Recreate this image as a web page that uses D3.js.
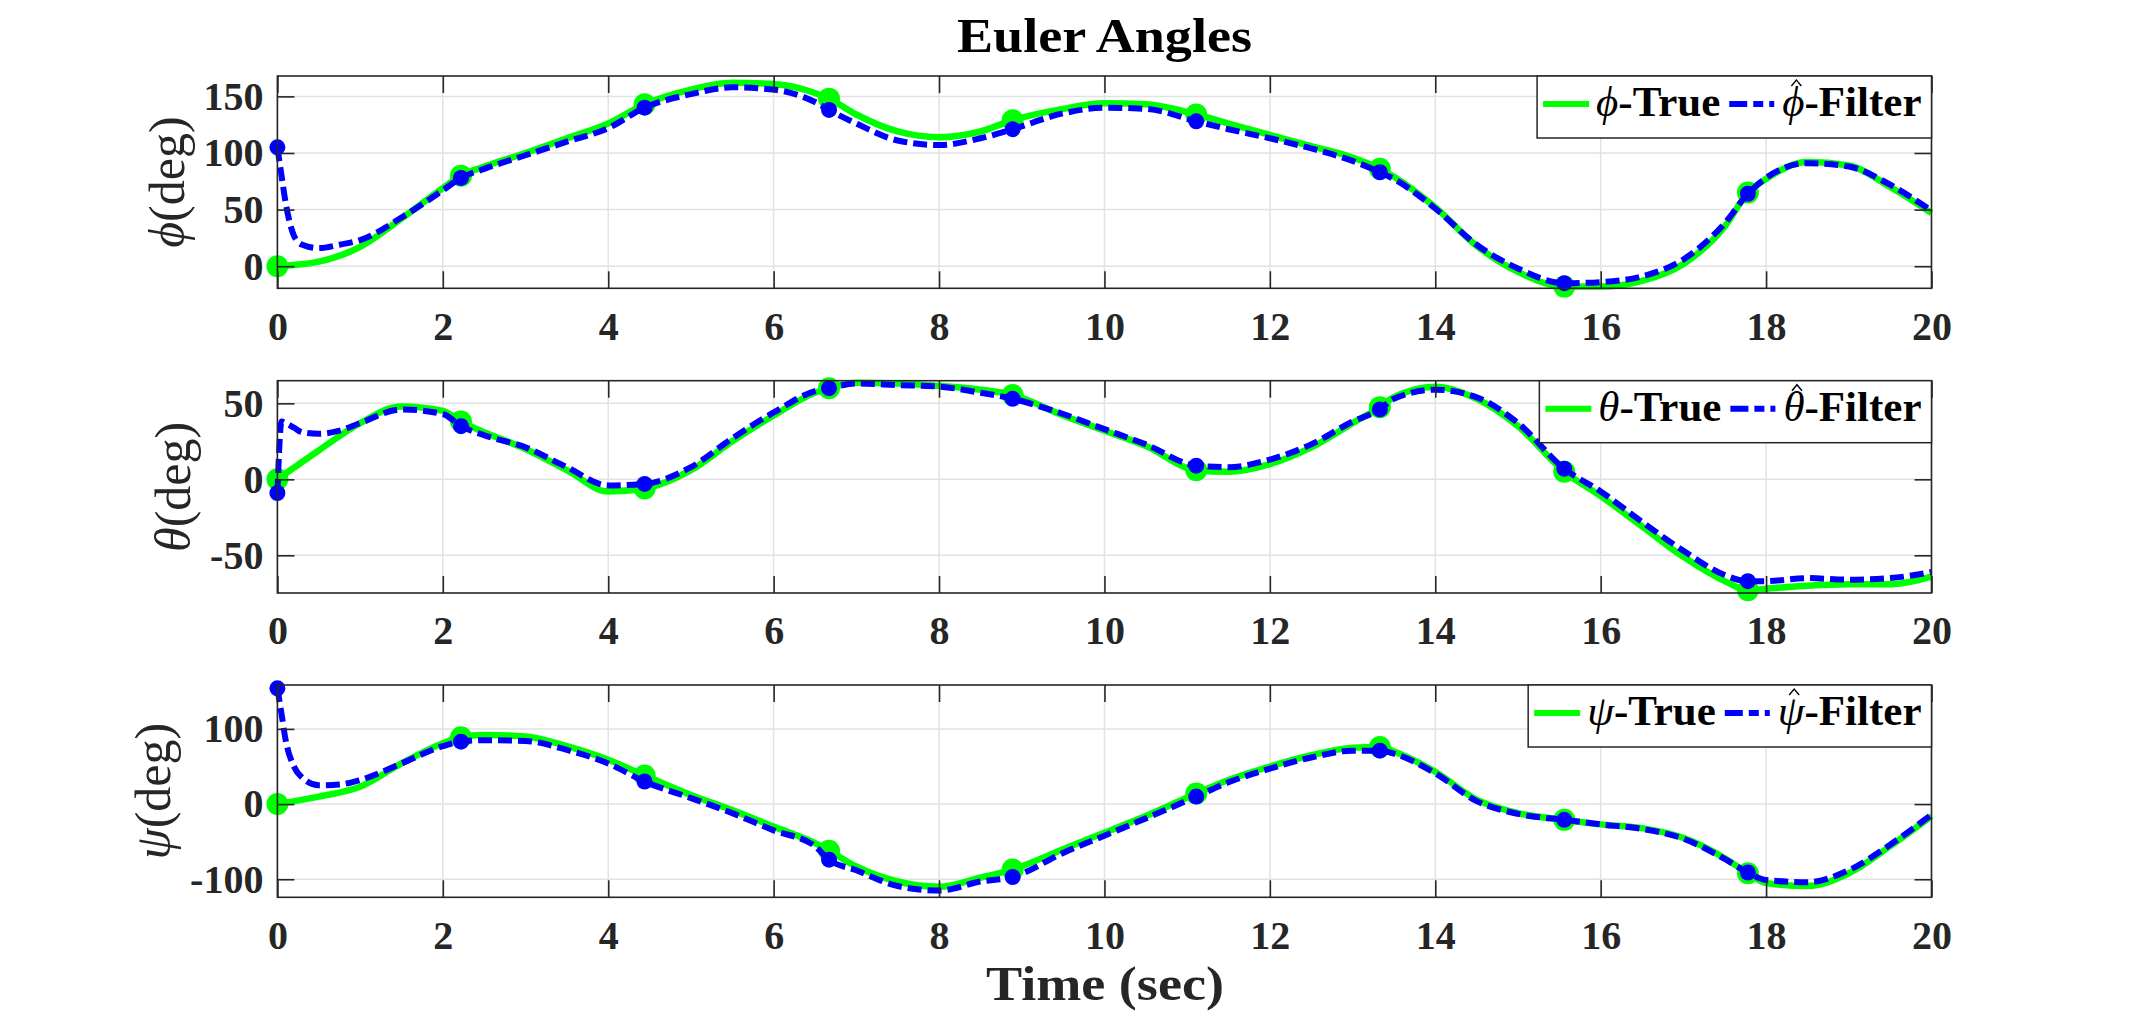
<!DOCTYPE html>
<html lang="en">

<head>
  <meta charset="UTF-8">
  <title>Euler Angles</title>
  <script src="https://d3js.org/d3.v7.min.js"></script>

  <style>
    body {
      margin: 0;
      background: #fff;
    }

    text {
      font-family: "Liberation Serif", "Times New Roman", serif;
    }
  </style>

</head>

<body>

  <div id="chart"></div>

  <script>

    // ---- data ----
    const time = [0, 0.5, 1, 1.5, 2, 2.22, 2.5, 3, 3.5, 4, 4.44, 5, 5.5, 6, 6.5, 6.67, 7, 7.5, 8, 8.5, 8.89, 9.5, 10, 10.5, 11.11, 11.5, 12, 12.5, 13, 13.33, 13.5, 14, 14.5, 15, 15.56, 16, 16.5, 17, 17.5, 17.78, 18, 18.5, 19, 19.5, 20];
    const phiTrue = [0, 4, 17, 42, 69, 80, 88, 100, 113, 126, 143, 156, 162, 161, 153, 148, 134, 119, 114, 119, 129, 139, 144, 143, 134, 126, 116, 106, 96, 86, 79, 52, 18, -5, -18, -18, -13, 2, 35, 65, 77, 92, 89, 70, 47];
    const thetaTrue = [0, 19, 37, 48, 45, 38, 31, 20, 6, -8, -6, 6, 25, 42, 57, 60, 63.5, 63, 61.5, 59, 55.5, 42, 32, 22, 6, 5, 10, 21, 37, 47.5, 54, 61, 53, 35, 5, -11, -31, -51, -67, -73, -72, -70, -69, -69, -64];
    const psiTrue = [0, 10, 23, 54, 81, 89, 92, 90, 77, 59, 38, 12, -8, -30, -52, -62, -83, -103, -110, -98, -87, -60, -38, -16, 14, 32, 50, 65, 75, 76, 70, 43, 6, -12, -21, -27, -32, -45, -72, -92, -105, -109, -92, -56, -16];

    const timeFilt = [0, 0.05, 0.1, 0.2, 0.3, 0.5, 0.75, 1, 1.5, 2, 2.22, 2.5, 3, 3.5, 4, 4.44, 5, 5.5, 6, 6.5, 6.67, 7, 7.5, 8, 8.5, 8.89, 9.5, 10, 10.5, 11.11, 11.5, 12, 12.5, 13, 13.33, 13.5, 14, 14.5, 15, 15.56, 16, 16.5, 17, 17.5, 17.78, 18, 18.5, 19, 19.5, 20];
    const phiFilt = [105, 80, 56, 27, 19, 16, 19, 23, 43, 67, 78, 86, 98, 110, 122, 140, 152, 158, 156, 145, 138, 126, 111, 107, 113, 121, 135, 140, 139, 128, 121, 113, 104, 93, 83, 77, 51, 19, -2, -15, -14, -9, 6, 38, 64, 78, 91, 88, 72, 49];
    const thetaFilt = [-9, 38, 37, 34, 31, 30, 32, 37, 46, 43, 35, 29, 21, 8, -4, -3, 8, 27, 44, 58, 60, 63, 62, 61, 57, 53, 43, 33, 23, 9, 8, 13, 23, 38, 46, 53, 59, 54, 37, 7, -8, -28, -47, -63, -67, -67, -65, -66, -65, -61];
    const psiFilt = [154, 120, 85, 50, 35, 25, 26, 32, 54, 77, 83, 85, 84, 72, 54, 30, 8, -12, -35, -56, -74, -88, -109, -115, -103, -97, -65, -42, -19, 10, 29, 47, 62, 71, 71, 67, 41, 4, -13, -21, -27, -33, -46, -73, -91, -101, -104, -88, -54, -14];

    const markerTimes = [0, 2.22, 4.44, 6.67, 8.89, 11.11, 13.33, 15.56, 17.78];

    const xTicks = [0, 2, 4, 6, 8, 10, 12, 14, 16, 18, 20];
    const phiTicks = [0, 50, 100, 150];
    const phiTickLabels = ['0', '50', '100', '150'];
    const thetaTicks = [-50, 0, 50];
    const thetaTickLabels = ['-50', '0', '50'];
    const psiTicks = [-100, 0, 100];
    const psiTickLabels = ['-100', '0', '100'];

    const symbols = ['\u03D5', '\u03B8', '\u03C8'];

    // ---- layout ----
    const W = 2136, H = 1017;
    const plotLeft = 277.4, plotRight = 1931.5, plotH = 212.3;
    const axisColor = '#262626';

    const panels = [
      { sym: symbols[0], trueV: phiTrue, filtV: phiFilt, domain: [-19.5, 168], ticks: phiTicks, labels: phiTickLabels, top: 76, labelX: 166 },
      { sym: symbols[1], trueV: thetaTrue, filtV: thetaFilt, domain: [-74.8, 64.9], ticks: thetaTicks, labels: thetaTickLabels, top: 380.7, labelX: 172 },
      { sym: symbols[2], trueV: psiTrue, filtV: psiFilt, domain: [-124, 158.4], ticks: psiTicks, labels: psiTickLabels, top: 685, labelX: 152 }
    ];

    const svg = d3.select('#chart').append('svg')
      .attr('width', W)
      .attr('height', H);

    svg.append('rect').attr('width', W).attr('height', H).attr('fill', '#fff');

    const x = d3.scaleLinear().domain([0, 20]).range([plotLeft, plotRight]);

    const drawLegend = (g, p) => {
      const top = p.top;
      const lg = g.append('g');
      const box = lg.append('rect')
        .attr('y', top)
        .attr('height', 62)
        .attr('fill', '#fff')
        .attr('stroke', axisColor)
        .attr('stroke-width', 1.5);

      let cx = 6;
      lg.append('line')
        .attr('x1', cx).attr('x2', cx + 46)
        .attr('y1', top + 28).attr('y2', top + 28)
        .attr('stroke', '#00ff00').attr('stroke-width', 6);
      cx += 53;

      const t1 = lg.append('text')
        .attr('x', cx).attr('y', top + 40)
        .attr('font-size', 43)
        .attr('fill', '#000');
      t1.append('tspan').attr('font-style', 'italic').text(p.sym);
      t1.append('tspan').attr('font-weight', 'bold').text('-True');
      cx += t1.node().getComputedTextLength() + 9;

      lg.append('line')
        .attr('x1', cx).attr('x2', cx + 45)
        .attr('y1', top + 28).attr('y2', top + 28)
        .attr('stroke', '#0000ff').attr('stroke-width', 6)
        .attr('stroke-dasharray', '18,6,10,6');
      cx += 53;

      const t2 = lg.append('text')
        .attr('x', cx).attr('y', top + 40)
        .attr('font-size', 43)
        .attr('fill', '#000');
      t2.append('tspan').attr('font-style', 'italic').text(p.sym);
      t2.append('tspan').attr('font-weight', 'bold').text('-Filter');
      const symW = t2.node().getSubStringLength(0, 1);
      const hx = cx + symW / 2 + 3;
      lg.append('path')
        .attr('d', `M${hx - 5},${top + 10} L${hx},${top + 4} L${hx + 5},${top + 10}`)
        .attr('fill', 'none')
        .attr('stroke', '#000')
        .attr('stroke-width', 1.4);
      cx += t2.node().getComputedTextLength() + 10;

      box.attr('x', 0).attr('width', cx);
      lg.attr('transform', `translate(${plotRight - cx},0)`);
    };

    panels.forEach(p => {
      const top = p.top, bottom = p.top + plotH;
      const y = d3.scaleLinear().domain(p.domain).range([bottom, top]);
      const g = svg.append('g');

      // grid
      g.append('g').selectAll('line').data(xTicks).enter().append('line')
        .attr('x1', d => x(d)).attr('x2', d => x(d))
        .attr('y1', top).attr('y2', bottom)
        .attr('stroke', '#e2e2e2').attr('stroke-width', 1.5);
      g.append('g').selectAll('line').data(p.ticks).enter().append('line')
        .attr('x1', plotLeft).attr('x2', plotRight)
        .attr('y1', d => y(d)).attr('y2', d => y(d))
        .attr('stroke', '#e2e2e2').attr('stroke-width', 1.5);

      const trueData = time.map((t, i) => ({ t: t, v: p.trueV[i] }));
      const filtData = timeFilt.map((t, i) => ({ t: t, v: p.filtV[i] }));

      const line = d3.line()
        .x(d => x(d.t))
        .y(d => y(d.v))
        .curve(d3.curveMonotoneX);

      g.append('path')
        .attr('d', line(trueData))
        .attr('fill', 'none')
        .attr('stroke', '#00ff00')
        .attr('stroke-width', 6.5)
        .attr('stroke-linejoin', 'round');

      g.append('g').selectAll('circle')
        .data(trueData.filter(d => markerTimes.includes(d.t)))
        .enter().append('circle')
        .attr('cx', d => x(d.t)).attr('cy', d => y(d.v))
        .attr('r', 11)
        .attr('fill', '#00ff00');

      g.append('path')
        .attr('d', line(filtData))
        .attr('fill', 'none')
        .attr('stroke', '#0000ff')
        .attr('stroke-width', 6)
        .attr('stroke-dasharray', '14,6');

      g.append('g').selectAll('circle')
        .data(filtData.filter(d => markerTimes.includes(d.t)))
        .enter().append('circle')
        .attr('cx', d => x(d.t)).attr('cy', d => y(d.v))
        .attr('r', 8)
        .attr('fill', '#0000ff');

      // axes
      const bottomAxis = g.append('g')
        .attr('transform', `translate(0,${bottom})`)
        .call(d3.axisBottom(x).tickValues(xTicks).tickSize(-17).tickPadding(23).tickFormat(d3.format('d')));
      const topAxis = g.append('g')
        .attr('transform', `translate(0,${top})`)
        .call(d3.axisTop(x).tickValues(xTicks).tickSize(-17).tickFormat(''));
      const leftAxis = g.append('g')
        .attr('transform', `translate(${plotLeft},0)`)
        .call(d3.axisLeft(y).tickValues(p.ticks).tickSize(-17).tickPadding(14).tickFormat((d, i) => p.labels[i]));
      const rightAxis = g.append('g')
        .attr('transform', `translate(${plotRight},0)`)
        .call(d3.axisRight(y).tickValues(p.ticks).tickSize(-17).tickFormat(''));

      [bottomAxis, topAxis, leftAxis, rightAxis].forEach(a => {
        a.attr('color', axisColor)
          .attr('font-size', 40)
          .attr('font-family', '"Liberation Serif", "Times New Roman", serif')
          .attr('font-weight', 'bold');
        a.select('.domain').remove();
        a.selectAll('.tick line').attr('stroke-width', 1.6);
      });

      g.append('rect')
        .attr('x', plotLeft).attr('y', top)
        .attr('width', plotRight - plotLeft).attr('height', plotH)
        .attr('fill', 'none')
        .attr('stroke', axisColor)
        .attr('stroke-width', 1.6);

      // y label
      const yl = g.append('text')
        .attr('transform', `translate(${p.labelX},${(top + bottom) / 2}) rotate(-90)`)
        .attr('text-anchor', 'middle')
        .attr('dy', '0.35em')
        .attr('font-size', 50)
        .attr('fill', axisColor);
      yl.append('tspan').attr('font-style', 'italic').text(p.sym);
      yl.append('tspan').text('(deg)');

      drawLegend(g, p);
    });

    svg.append('text')
      .attr('x', 1104.5).attr('y', 52)
      .attr('text-anchor', 'middle')
      .attr('font-size', 48)
      .attr('font-weight', 'bold')
      .attr('textLength', 295)
      .attr('lengthAdjust', 'spacingAndGlyphs')
      .attr('fill', '#000')
      .text('Euler Angles');

    svg.append('text')
      .attr('x', 1105).attr('y', 1000)
      .attr('text-anchor', 'middle')
      .attr('font-size', 48)
      .attr('font-weight', 'bold')
      .attr('textLength', 238)
      .attr('lengthAdjust', 'spacingAndGlyphs')
      .attr('fill', axisColor)
      .text('Time (sec)');

  </script>

</body>

</html>
